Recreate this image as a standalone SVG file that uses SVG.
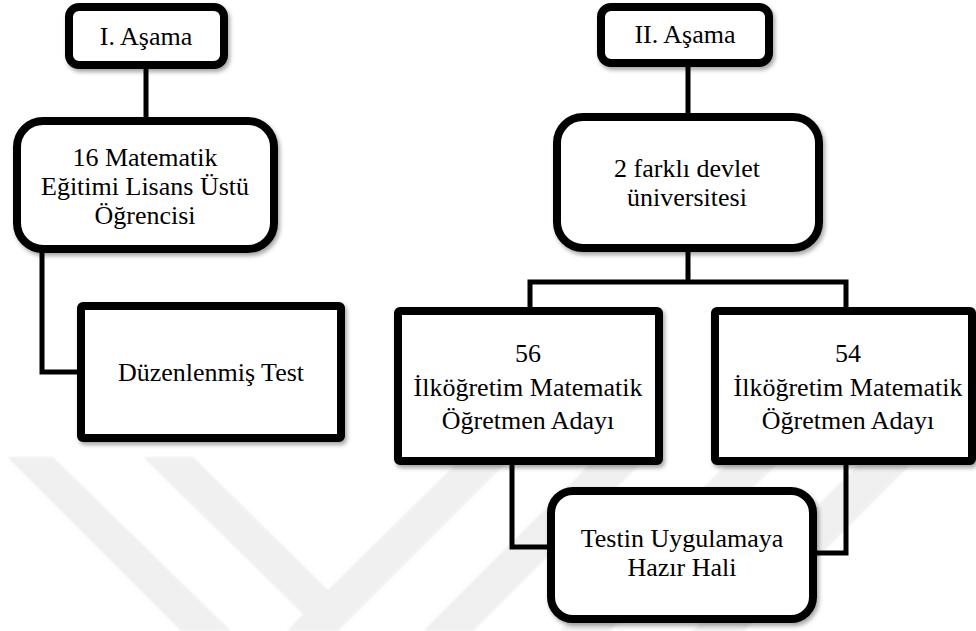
<svg xmlns="http://www.w3.org/2000/svg" width="976" height="631" viewBox="0 0 976 631">
<defs>
<style>
.box{fill:#fff;stroke:#000;stroke-width:8;filter:url(#sh)}
.ln{fill:none;stroke:#000;stroke-width:5;stroke-linejoin:miter}
.t{font-family:"Liberation Serif","Times New Roman",serif;font-size:26px;fill:#000;text-anchor:middle}
.wm{fill:#f0f0f0}
</style>
<filter id="sh" x="-10%" y="-10%" width="130%" height="130%">
<feDropShadow dx="2" dy="3" stdDeviation="2" flood-color="#000" flood-opacity="0.35"/>
</filter>
<filter id="blur"><feGaussianBlur stdDeviation="1.2"/></filter>
</defs>
<rect width="976" height="631" fill="#fff"/>
<g id="watermark" filter="url(#blur)">
<polygon class="wm" points="7,457 53,457 231,631 181,631"/>
<polygon class="wm" points="143,457 193,457 328,590 463,457 512,457 338,631 287,631 303,614"/>
<polygon class="wm" points="597,457 647,457 473,631 423,631"/>
<polygon class="wm" points="734,457 784,457 610,631 560,631"/>
<polygon class="wm" points="866,457 918,457 744,631 692,631"/>
</g>
<g id="connectors">
<line class="ln" x1="146" y1="66" x2="146" y2="121"/>
<polyline class="ln" points="42,249 42,372 81,372"/>
<line class="ln" x1="688" y1="64" x2="688" y2="114"/>
<line class="ln" x1="688" y1="249" x2="688" y2="282"/>
<polyline class="ln" points="530,309 530,282 846,282 846,309"/>
<polyline class="ln" points="512,462 512,547 551,547"/>
<polyline class="ln" points="846,462 846,553 813,553"/>
</g>
<g id="n1">
<rect class="box" x="69" y="7" width="155" height="58" rx="10"/>
<text class="t" x="146" y="45">I. Aşama</text>
</g>
<g id="n2">
<rect class="box" x="17" y="121" width="257" height="128" rx="26"/>
<text class="t" x="145" y="166">16 Matematik</text>
<text class="t" x="145" y="195">Eğitimi Lisans Üstü</text>
<text class="t" x="145" y="224">Öğrencisi</text>
</g>
<g id="n3">
<rect class="box" x="81" y="306" width="260" height="132" rx="2"/>
<text class="t" x="211" y="381">Düzenlenmiş Test</text>
</g>
<g id="n4">
<rect class="box" x="601" y="7" width="168" height="56" rx="10"/>
<text class="t" x="685" y="43">II. Aşama</text>
</g>
<g id="n5">
<rect class="box" x="557" y="117" width="262" height="131" rx="26"/>
<text class="t" x="687" y="177">2 farklı devlet</text>
<text class="t" x="687" y="206">üniversitesi</text>
</g>
<g id="n6">
<rect class="box" x="398" y="311" width="261" height="150" rx="2"/>
<text class="t" x="528" y="362">56</text>
<text class="t" x="528" y="396">İlköğretim Matematik</text>
<text class="t" x="528" y="429">Öğretmen Adayı</text>
</g>
<g id="n7">
<rect class="box" x="715" y="311" width="257" height="150" rx="2"/>
<text class="t" x="848" y="362">54</text>
<text class="t" x="848" y="396">İlköğretim Matematik</text>
<text class="t" x="848" y="429">Öğretmen Adayı</text>
</g>
<g id="n8">
<rect class="box" x="551" y="491" width="262" height="128" rx="22"/>
<text class="t" x="682" y="547">Testin Uygulamaya</text>
<text class="t" x="682" y="576">Hazır Hali</text>
</g>
</svg>
